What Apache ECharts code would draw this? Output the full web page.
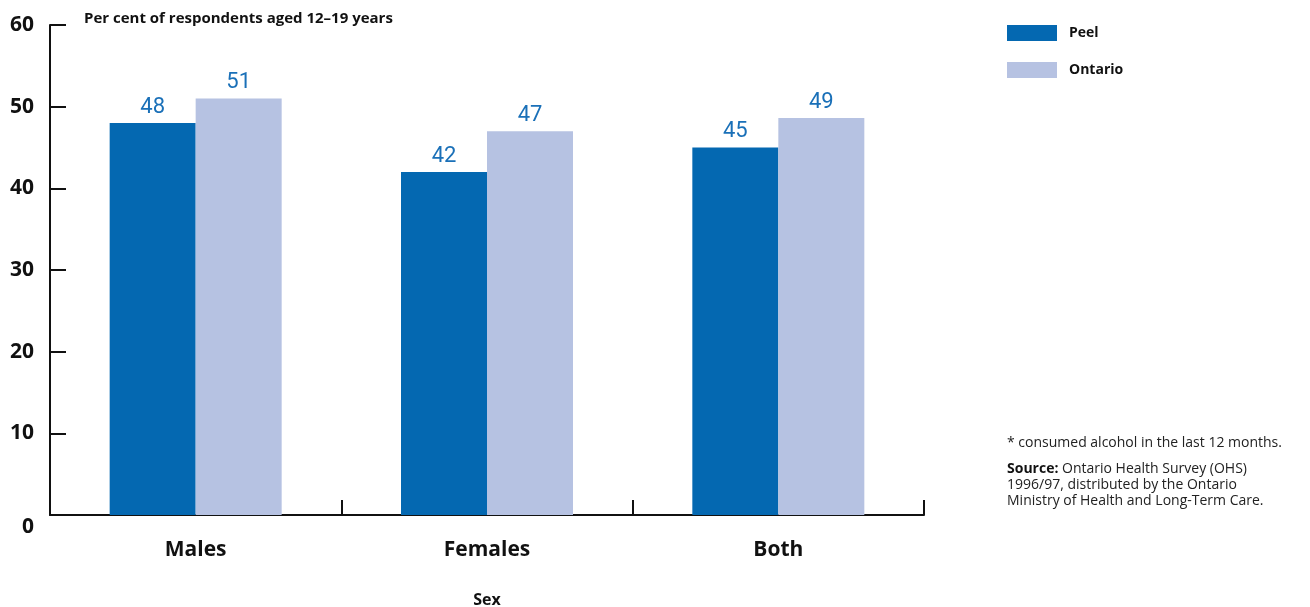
<!DOCTYPE html>
<html>
<head>
    <meta charset="utf-8">
    <title>Alcohol use, ages 12-19</title>
    <script src="https://cdn.jsdelivr.net/npm/echarts@6/dist/echarts.min.js"></script>
    <style>
        html, body { margin: 0; padding: 0; background: #fff; }
        #main { width: 1310px; height: 607px; }
    </style>
</head>
<body>
    <div id="main"></div>
    <script type="text/javascript">
        // data
        var categories = ['Males', 'Females', 'Both'];
        var peel = [48, 42, 45];
        var ontario = [51, 47, 48.6];
        var seriesNames = ['Peel', 'Ontario'];
        var yTicks = [0, 10, 20, 30, 40, 50, 60];

        var font = '"Open Sans", "Noto Sans", sans-serif';
        var myChart = echarts.init(document.getElementById('main'));

        var valueLabel = {
            show: true,
            position: 'top',
            distance: 5,
            color: '#1a70b8',
            fontFamily: 'Roboto, sans-serif',
            fontSize: 22,
            formatter: function (p) { return Math.round(p.value); }
        };

        var option = {
            animation: false,
            textStyle: { fontFamily: font },
            grid: { left: 50, right: 386, top: 25, bottom: 92, outerBoundsMode: 'none', containLabel: false },
            legend: {
                data: seriesNames,
                orient: 'vertical',
                left: 1002,
                top: 20,
                itemWidth: 50,
                itemHeight: 16,
                itemGap: 21,
                icon: 'rect',
                textStyle: { fontFamily: font, fontWeight: 'bold', fontSize: 14, color: '#111', padding: [0, 0, 0, 7] }
            },
            xAxis: {
                type: 'category',
                data: categories,
                name: 'Sex',
                nameLocation: 'middle',
                nameGap: 77,
                nameTextStyle: { fontFamily: font, fontWeight: 'bold', fontSize: 16, color: '#111' },
                axisLine: { lineStyle: { color: '#111', width: 2 } },
                axisTick: { show: true, inside: true, length: 15, interval: 0, lineStyle: { color: '#111', width: 2 } },
                axisLabel: { margin: 25, fontFamily: font, fontWeight: 'bold', fontSize: 21, color: '#111' }
            },
            yAxis: {
                type: 'value',
                min: yTicks[0],
                max: yTicks[yTicks.length - 1],
                interval: 10,
                splitLine: { show: false },
                axisLine: { show: true, lineStyle: { color: '#111', width: 2 } },
                axisTick: { show: true, inside: true, length: 16, lineStyle: { color: '#111', width: 2 } },
                axisLabel: {
                    margin: 16,
                    color: '#111',
                    formatter: function (v) { return v === 0 ? '{z|0}' : '{n|' + v + '}'; },
                    rich: {
                        n: { fontFamily: font, fontWeight: 'bold', fontSize: 21, color: '#111' },
                        z: { fontFamily: font, fontWeight: 'bold', fontSize: 21, color: '#111', padding: [24, 0, 0, 0] }
                    }
                }
            },
            series: [
                {
                    name: seriesNames[0],
                    type: 'bar',
                    data: peel,
                    barWidth: 86,
                    barGap: '0%',
                    itemStyle: { color: '#0468b1' },
                    label: valueLabel
                },
                {
                    name: seriesNames[1],
                    type: 'bar',
                    data: ontario,
                    barWidth: 86,
                    barGap: '0%',
                    itemStyle: { color: '#b6c2e2' },
                    label: valueLabel
                }
            ],
            graphic: [
                {
                    type: 'text',
                    left: 84,
                    top: 11,
                    style: { text: 'Per cent of respondents aged 12–19 years', font: 'bold 15px ' + font, fill: '#111' }
                },
                {
                    type: 'text',
                    left: 1007,
                    top: 436,
                    style: { text: '* consumed alcohol in the last 12 months.', font: '14px ' + font, fill: '#222' }
                },
                {
                    type: 'text',
                    left: 1007,
                    top: 461,
                    style: {
                        text: '{b|Source:} Ontario Health Survey (OHS)\n1996/97, distributed by the Ontario\nMinistry of Health and Long-Term Care.',
                        lineHeight: 16,
                        fill: '#222',
                        font: '14px ' + font,
                        rich: {
                            b: { fontFamily: font, fontWeight: 'bold', fontSize: 14, fill: '#111', lineHeight: 16 }
                        }
                    }
                }
            ]
        };

        myChart.setOption(option);
    </script>
</body>
</html>
